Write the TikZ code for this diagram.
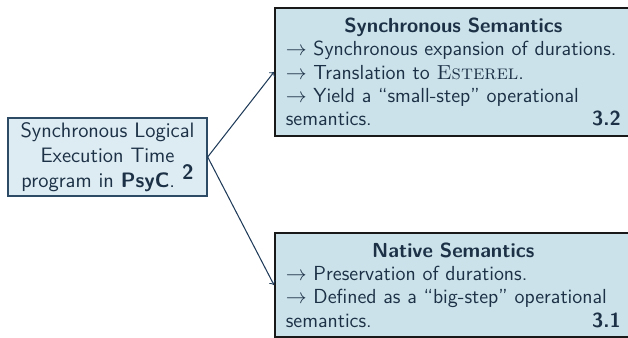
\documentclass[tikz,border=0pt]{standalone}
\usepackage{xcolor}
\usepackage{tikz}
\usetikzlibrary{arrows}

\definecolor{slatetext}{HTML}{1C3146}
\definecolor{semfill}{HTML}{CCE2EA}
\definecolor{progfill}{HTML}{DDEBF2}
\definecolor{progline}{HTML}{2E4B66}
\definecolor{linkline}{HTML}{1F3A58}

\begin{document}
\begin{tikzpicture}[x=0.575pt, y=-0.575pt, >=to]
    \tikzset{progbox/.style={draw=progline, line width=0.8pt, fill=progfill,
        text=slatetext, text width=102pt, align=center, inner xsep=6.2pt,
        inner ysep=2.5pt, font=\fontsize{12}{14.4}\selectfont\sffamily}}
    \tikzset{sembox/.style={draw=black!90, line width=1.2pt, fill=semfill,
        text=slatetext, text width=192.6pt, align=left, inner xsep=6.2pt,
        inner ysep=5.5pt, font=\fontsize{11.7}{13.4}\selectfont\sffamily}}
    \useasboundingbox (0,0) rectangle (628,338);
    \clip (0,0) rectangle (628,338);

    \node[progbox] (prog) at (107.5,157)
        {Synchronous Logical Execution Time program in
         \textbf{PsyC}. \raisebox{0.8ex}{\textbf{2}}};

    \node[sembox, anchor=west] (sync) at (274,72)
        {\makebox[\linewidth]{\textbf{Synchronous Semantics}}\\
         $\rightarrow$ Synchronous expansion of durations.\\
         $\rightarrow$ Translation to {\rmfamily\scshape Esterel}.\\
         $\rightarrow$ Yield a ``small-step'' operational\\
         semantics. \hfill\textbf{3.2}};

    \node[sembox, anchor=west] (native) at (274,285)
        {\makebox[\linewidth]{\textbf{Native Semantics}}\\
         $\rightarrow$ Preservation of durations.\\
         $\rightarrow$ Defined as a ``big-step'' operational\\
         semantics. \hfill\textbf{3.1}};

    \draw[linkline, line width=0.6pt, ->] (prog.east) -- (sync.west);
    \draw[linkline, line width=0.6pt, ->] (prog.east) -- (native.west);
\end{tikzpicture}
\end{document}
